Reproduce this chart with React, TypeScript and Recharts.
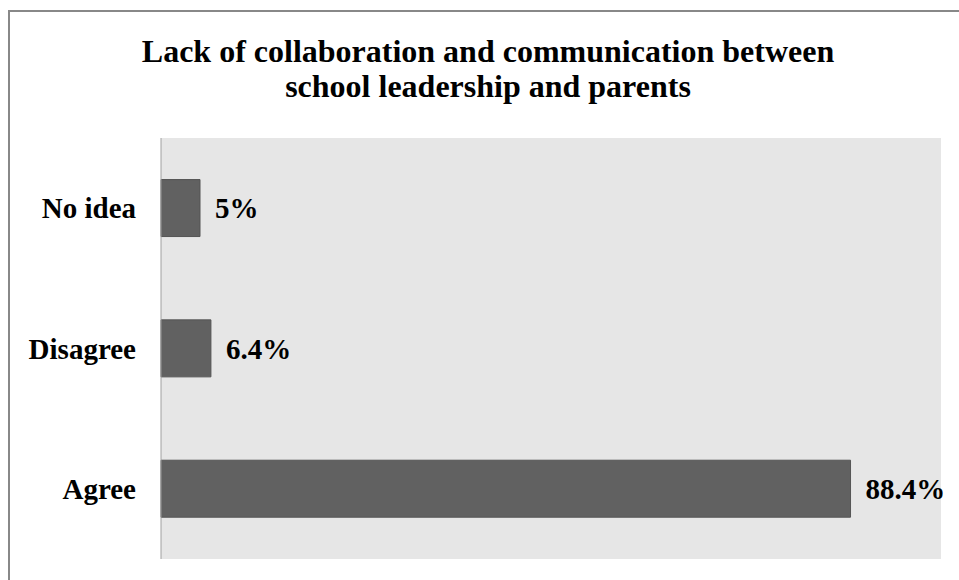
import React from "react";
import { BarChart, Bar, XAxis, YAxis, CartesianGrid, LabelList } from "recharts";

const categories = ["No idea", "Disagree", "Agree"];
const percentages = [5, 6.4, 88.4];
const titleLines = [
  "Lack of collaboration  and communication between",
  "school leadership and parents",
];

const data = categories.map((name, i) => ({ name, value: percentages[i] }));

const FONT = '"Liberation Serif", "Times New Roman", serif';

export default function App() {
  return (
    <div style={{ position: "absolute", left: 0, top: 0, width: 959, height: 580, background: "#ffffff" }}>
      <BarChart
        width={959}
        height={580}
        data={data}
        layout="vertical"
        margin={{ top: 138, right: 18, bottom: 21, left: 0 }}
        barCategoryGap="29.6%"
      >
        <CartesianGrid fill="#e6e6e6" horizontal={false} vertical={false} stroke="none" />
        <XAxis type="number" domain={[0, 100]} hide />
        <YAxis
          type="category"
          dataKey="name"
          width={161}
          axisLine={{ stroke: "#a0a0a0", strokeWidth: 1 }}
          tickLine={false}
          tickSize={0}
          tickMargin={25}
          tick={{ fill: "#000000", fontSize: 29, fontWeight: "bold", fontFamily: FONT }}
        />
        <Bar dataKey="value" fill="#616161" stroke="#555555" strokeWidth={1} isAnimationActive={false}>
          <LabelList
            dataKey="value"
            position="right"
            offset={15}
            formatter={(v: number) => `${v}%`}
            style={{ fill: "#000000", fontSize: 29, fontWeight: "bold", fontFamily: FONT }}
          />
        </Bar>
      </BarChart>
      <svg
        width={959}
        height={580}
        style={{ position: "absolute", left: 0, top: 0, pointerEvents: "none" }}
      >
        <line x1={9} y1={10} x2={9} y2={580} stroke="#888888" strokeWidth={2} />
        <line x1={8} y1={11} x2={959} y2={11} stroke="#888888" strokeWidth={2} />
        <text x={488} y={62} textAnchor="middle" fontFamily={FONT} fontWeight="bold" fontSize={32} fill="#000000">
          {titleLines[0]}
        </text>
        <text x={488} y={97} textAnchor="middle" fontFamily={FONT} fontWeight="bold" fontSize={32} fill="#000000">
          {titleLines[1]}
        </text>
      </svg>
    </div>
  );
}
